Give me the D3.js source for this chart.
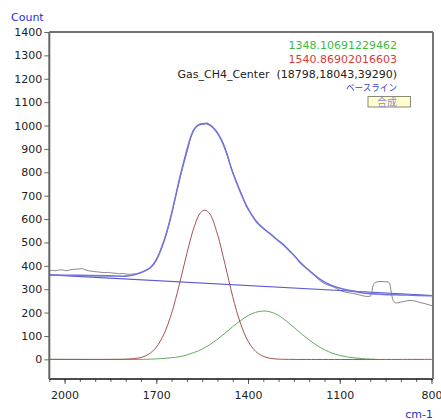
<!DOCTYPE html>
<html>
<head>
<meta charset="utf-8">
<script src="https://cdn.jsdelivr.net/npm/d3@7"></script>
<style>
body { margin: 0; background: #fff; }
svg { display: block; font-family: "DejaVu Sans", sans-serif; }
</style>
</head>
<body>
<svg width="441" height="420"></svg>
<script>
// wavenumber (cm-1), count
var rawSpectrum = [[2050,378],[2040,381],[2030,379],[2020,382],[2009,383],[2000,380],[1993,379],[1985,382],[1975,384],
  [1960,386],[1950,387],[1944,388],[1935,384],[1922,379],[1910,377],[1900,375],[1884,373],[1870,371],[1860,372],
  [1850,370],[1841,369],[1830,368],[1820,366],[1810,367],[1797,365],[1785,364],[1775,365],[1760,367],[1745,374],
  [1731,384],[1715,398],[1700,428],[1688,462],[1675,508],[1660,570],[1645,650],[1630,735],[1615,815],[1600,885],
  [1588,945],[1576,982],[1565,1000],[1555,1006],[1545,1004],[1535,1011],[1524,1003],[1512,989],[1500,968],
  [1485,930],[1470,880],[1455,818],[1437,756],[1420,702],[1404,650],[1390,624],[1380,600],[1372,590],[1362,574],
  [1350,562],[1340,550],[1328,536],[1315,524],[1305,510],[1295,501],[1284,487],[1272,476],[1263,462],[1252,450],
  [1243,436],[1230,414],[1215,396],[1200,378],[1182,358],[1164,336],[1143,320],[1121,310],[1099,295],[1080,287],
  [1066,284],[1050,280],[1033,275],[1012,269],[1000,270],[995,290],[990,320],[985,328],[979,331],[965,333],
  [955,332],[941,331],[936,320],[930,275],[925,250],[914,241],[900,245],[885,249],[870,252],[855,250],[837,243],
  [820,238],[805,232],[795,228]];

var fittedSum = [[2050,361],[1950,359],[1850,357],[1800,356],[1775,361],[1750,371],[1720,391],[1700,425],
  [1675,505],[1655,597],[1640,680],[1622,783],[1605,870],[1590,940],[1578,980],[1565,1000],[1550,1007],
  [1536,1008],[1524,1001],[1512,988],[1500,968],[1485,933],[1470,883],[1455,818],[1437,754],[1420,700],
  [1404,654],[1390,622],[1372,588],[1350,560],[1328,538],[1305,512],[1284,490],[1263,462],[1245,438],
  [1230,415],[1200,380],[1164,342],[1131,318],[1099,304],[1066,294],[1033,286],[1000,281],[960,278],
  [925,276],[880,275],[840,273],[795,272]];

var baseline = [[2050,361],[795,273]];

var peak1540 = [[2050,0],[1850,0],[1800,1],[1775,3],[1750,8],[1725,22],[1700,52],[1675,108],[1650,197],
  [1625,318],[1600,453],[1575,571],[1555,628],[1541,638],[1525,622],[1500,535],[1475,405],[1450,268],
  [1425,155],[1400,78],[1375,34],[1350,13],[1325,4],[1300,1],[1275,0],[795,0]];

var peak1348 = [[2050,0],[1750,0],[1700,2],[1675,4],[1650,7],[1625,11],[1600,19],[1575,30],[1550,44],
  [1525,63],[1500,86],[1475,112],[1450,140],[1425,165],[1400,187],[1375,201],[1348,207],[1325,202],
  [1300,188],[1275,164],[1250,137],[1225,109],[1200,83],[1175,60],[1150,41],[1125,27],[1100,17],
  [1075,10],[1050,6],[1025,3],[1000,1],[985,1]];

var xTickLabels = [2000, 1700, 1400, 1100, 800];
var yTickLabels = [0, 100, 200, 300, 400, 500, 600, 700, 800, 900, 1000, 1100, 1200, 1300, 1400];

var infoLines = [
  {text: "1348.10691229462", color: "#3fb83f"},
  {text: "1540.86902016603", color: "#d83a3a"},
  {text: "Gas_CH4_Center\u00a0\u00a0(18798,18043,39290)", color: "#222"}
];

function main() {
  var svg = d3.select("svg");
  var left = 49.3, right = 433, top = 32, bottom = 379;

  var x = d3.scaleLinear().domain([2050, 795]).range([left, right]);
  var y = d3.scaleLinear().domain([-84, 1400]).range([bottom, top]);

  svg.append("defs").append("clipPath").attr("id", "plot")
     .append("rect").attr("x", left).attr("y", top)
     .attr("width", right - left).attr("height", bottom - top);

  var line = d3.line()
    .x(function(d) { return x(d[0]); })
    .y(function(d) { return y(d[1]); })
    .curve(d3.curveMonotoneX);
  var smooth = d3.line()
    .x(function(d) { return x(d[0]); })
    .y(function(d) { return y(d[1]); })
    .curve(d3.curveCatmullRom.alpha(0.5));

  var g = svg.append("g").attr("clip-path", "url(#plot)");

  g.append("path").datum(rawSpectrum).attr("d", line)
   .attr("fill", "none").attr("stroke", "#6a6a6a").attr("stroke-width", 0.8);
  g.append("path").datum(baseline).attr("d", line)
   .attr("fill", "none").attr("stroke", "#5a5ad2").attr("stroke-width", 1.2);
  g.append("path").datum(peak1348).attr("d", smooth)
   .attr("fill", "none").attr("stroke", "#62a862").attr("stroke-width", 1);
  g.append("path").datum(peak1540).attr("d", smooth)
   .attr("fill", "none").attr("stroke", "#a84f4f").attr("stroke-width", 1);
  g.append("path").datum(fittedSum).attr("d", smooth)
   .attr("fill", "none").attr("stroke", "#7373de").attr("stroke-width", 1.6);

  // y axis
  var yAxis = svg.append("g").attr("transform", "translate(" + left + ",0)")
    .call(d3.axisLeft(y).tickValues(yTickLabels).tickSize(5).tickPadding(2).tickFormat(d3.format("d")));
  yAxis.select(".domain").remove();
  yAxis.selectAll("line").attr("stroke", "#666");
  yAxis.selectAll("text").attr("font-size", "11px").attr("fill", "#222")
       .attr("font-family", "DejaVu Sans");

  // x axis: minor then major
  var xMinor = svg.append("g").attr("transform", "translate(0," + bottom + ")")
    .call(d3.axisBottom(x).tickValues(d3.range(800, 2051, 50)).tickSize(3).tickFormat(""));
  xMinor.select(".domain").remove();
  xMinor.selectAll("line").attr("stroke", "#666");

  var xAxis = svg.append("g").attr("transform", "translate(0," + bottom + ")")
    .call(d3.axisBottom(x).tickValues(xTickLabels).tickSize(5).tickPadding(7).tickFormat(d3.format("d")));
  xAxis.select(".domain").remove();
  xAxis.selectAll("line").attr("stroke", "#555");
  xAxis.selectAll("text").attr("font-size", "11px").attr("fill", "#222")
       .attr("font-family", "DejaVu Sans");

  // frame
  svg.append("line").attr("x1", left).attr("x2", right).attr("y1", top).attr("y2", top)
     .attr("stroke", "#444").attr("stroke-width", 1.3);
  svg.append("line").attr("x1", left).attr("x2", right).attr("y1", bottom).attr("y2", bottom)
     .attr("stroke", "#111").attr("stroke-width", 1.6);
  svg.append("line").attr("x1", left).attr("x2", left).attr("y1", top).attr("y2", bottom)
     .attr("stroke", "#666").attr("stroke-width", 2);
  svg.append("line").attr("x1", right).attr("x2", right).attr("y1", top).attr("y2", bottom)
     .attr("stroke", "#777").attr("stroke-width", 2);

  // axis titles
  svg.append("text").attr("x", 11).attr("y", 21).text("Count")
     .attr("font-size", "11px").attr("fill", "#2b2be0");
  svg.append("text").attr("x", 433).attr("y", 418).attr("text-anchor", "end").text("cm-1")
     .attr("font-size", "11px").attr("fill", "#2b2bc0");

  // info text
  svg.selectAll(".info").data(infoLines).enter().append("text")
     .attr("class", "info")
     .attr("x", 397)
     .attr("y", function(d, i) { return 49 + i * 14.4; })
     .attr("text-anchor", "end")
     .attr("font-size", "11px")
     .attr("fill", function(d) { return d.color; })
     .text(function(d) { return d.text; });

  svg.append("text").attr("x", 397).attr("y", 91).attr("text-anchor", "end")
     .attr("font-size", "9.5px").attr("font-family", "Noto Sans CJK JP")
     .attr("textLength", 51).attr("lengthAdjust", "spacingAndGlyphs")
     .attr("fill", "#3c3cc8").text("ベースライン");

  svg.append("rect").attr("x", 368).attr("y", 96.5).attr("width", 42.5).attr("height", 10.5)
     .attr("fill", "#ffffcc").attr("stroke", "#8a8a7a").attr("stroke-width", 1);
  svg.append("text").attr("x", 397).attr("y", 105.5).attr("text-anchor", "end")
     .attr("font-size", "10px").attr("font-family", "Noto Sans CJK JP")
     .attr("fill", "#8c8ce0").text("合成");
}
main();
</script>
</body>
</html>
